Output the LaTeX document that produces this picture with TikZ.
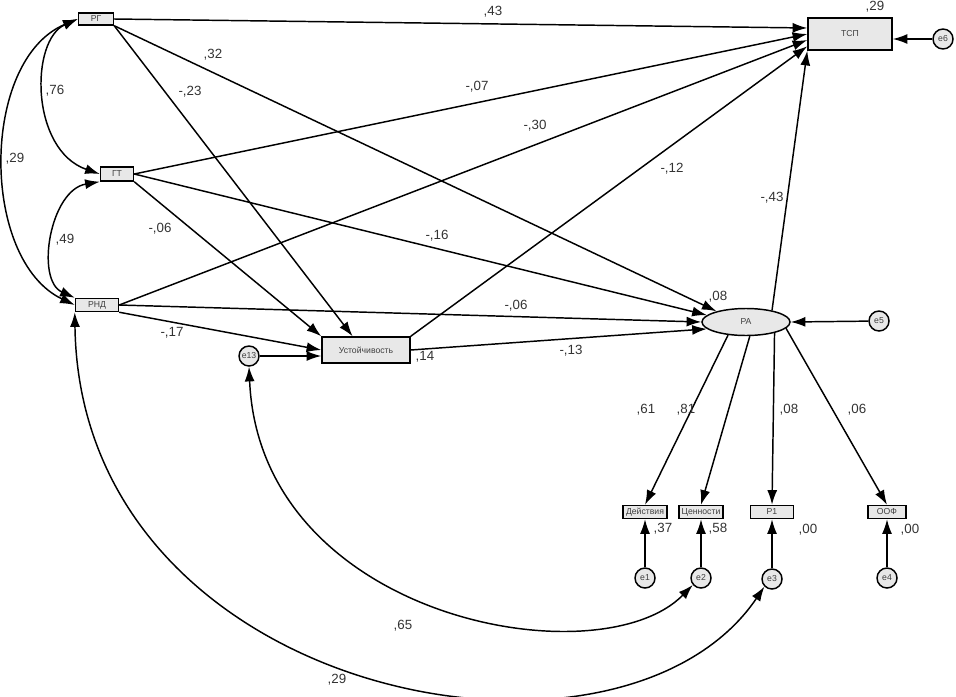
\documentclass[tikz,border=0pt]{standalone}
\usepackage{fontspec}
\setmainfont{Liberation Sans}
\usetikzlibrary{calc, arrows.meta, shapes.geometric}

\begin{document}
\begin{tikzpicture}[x=0.75pt, y=-0.75pt, line width=1.1pt,
  >={Latex[length=11pt,width=7.5pt]},
  obs/.style={draw, line width=1.1pt, fill=gray!18, inner sep=0pt,
    text=black!75, font=\fontsize{6.5}{7}\selectfont},
  lat/.style={obs, ellipse},
  err/.style={obs, circle, minimum size=15pt},
  coef/.style={inner sep=0pt, text=black!80, font=\fontsize{10}{12}\selectfont}]
  \useasboundingbox (0,0) rectangle (956,696);
  % observed variables
  \node[obs, minimum width=26.25pt, minimum height=9pt]    (RG)  at (96,19)   {РГ};
  \node[obs, minimum width=24.75pt, minimum height=10.5pt] (GT)  at (117,174) {ГТ};
  \node[obs, minimum width=32.25pt, minimum height=9.75pt] (RND) at (97,305)  {РНД};
  \node[obs, minimum width=63pt, minimum height=24pt]      (TSP) at (850,34)  {ТСП};
  \node[obs, minimum width=66pt, minimum height=19.5pt]    (UST) at (366,350) {Устойчивость};
  \node[lat, minimum width=66pt, minimum height=20.25pt]   (RA)  at (746,322) {РА};
  \node[obs, minimum width=33pt, minimum height=9.75pt]    (D)   at (645,512) {Действия};
  \node[obs, minimum width=33pt, minimum height=9.75pt]    (C)   at (701,512) {Ценности};
  \node[obs, minimum width=32.25pt, minimum height=9.75pt] (P1)  at (772,512) {Р1};
  \node[obs, minimum width=28.5pt, minimum height=9.75pt]  (OOF) at (887,512) {ООФ};
  % errors
  \node[err] (e6)  at (943,39)  {e6};
  \node[err] (e5)  at (879,321) {e5};
  \node[err] (e13) at (249,356) {e13};
  \node[err] (e1)  at (645,578) {e1};
  \node[err] (e2)  at (701,578) {e2};
  \node[err] (e3)  at (772,579) {e3};
  \node[err] (e4)  at (887,578) {e4};
  % paths to ТСП
  \draw[->] (RG.east) -- (TSP.172);
  \draw[->] (GT.east) -- (TSP.west);
  \draw[->] (RND.east) -- (TSP.188);
  \draw[->] (UST.north east) -- (TSP.196);
  \draw[->] (RA.24) -- (TSP.south west);
  \draw[->] (e6) -- (e6 -| TSP.east);
  % paths to Устойчивость
  \draw[->] (RG.south east) -- ($(UST.north west)!0.35!(UST.north east)$);
  \draw[->] (GT.south east) -- (UST.north west);
  \draw[->] (RND.south east) -- (UST.west);
  \draw[->] (e13) -- (e13 -| UST.west);
  % paths to РА
  \draw[->] (RG.south east) -- (RA.160);
  \draw[->] (GT.east) -- (RA.170);
  \draw[->] (RND.east) -- (RA.180);
  \draw[->] (UST.east) -- (RA.190);
  \draw[->] (e5) -- (RA.east);
  % indicators
  \draw[->] (RA.216) -- (D.north);
  \draw[->] (RA.285) -- (C.north);
  \draw[->] (RA.339) -- (P1.north);
  \draw[->] (RA.351) -- (OOF.north);
  \foreach \e/\v in {e1/D, e2/C, e3/P1, e4/OOF}
    \draw[->] (\e) -- (\v.south);
  % covariances
  \draw[<->] (RG.west) .. controls (30,40) and (30,150) .. (GT.west);
  \draw[<->] (GT.south west) .. controls (50,190) and (35,280) .. (RND.north west);
  \draw[<->] (RG.west) .. controls (-20,60) and (-20,260) .. (RND.west);
  \draw[<->] (e13.south) .. controls (260,620) and (600,680) .. (e2.220);
  \draw[<->] (RND.south west) .. controls (80,700) and (620,800) .. (e3.225);
  % coefficients
  \node[coef] (kTSP) at (875,7)   {,29};
  \node[coef] (k1)   at (493,12)  {,43};
  \node[coef] (k2)   at (213,55)  {,32};
  \node[coef] (k3)   at (190,92)  {-,23};
  \node[coef] (k4)   at (477,87)  {-,07};
  \node[coef] (k5)   at (535,126) {-,30};
  \node[coef] (k6)   at (55,91)   {,76};
  \node[coef] (k7)   at (15,159)  {,29};
  \node[coef] (k8)   at (672,169) {-,12};
  \node[coef] (k9)   at (772,198) {-,43};
  \node[coef] (k10)  at (437,236) {-,16};
  \node[coef] (k11)  at (65,240)  {,49};
  \node[coef] (k12)  at (160,229) {-,06};
  \node[coef] (k13)  at (516,306) {-,06};
  \node[coef] (k14)  at (172,333) {-,17};
  \node[coef] (k15)  at (571,351) {-,13};
  \node[coef] (kRA)  at (718,297) {,08};
  \node[coef] (kUST) at (425,357) {,14};
  \node[coef] (k16)  at (646,410) {,61};
  \node[coef] (k17)  at (686,410) {,81};
  \node[coef] (k18)  at (789,410) {,08};
  \node[coef] (k19)  at (857,410) {,06};
  \node[coef] (kD)   at (663,529) {,37};
  \node[coef] (kC)   at (718,529) {,58};
  \node[coef] (kP1)  at (808,530) {,00};
  \node[coef] (kOOF) at (910,530) {,00};
  \node[coef] (k20)  at (403,626) {,65};
  \node[coef] (k21)  at (337,680) {,29};
\end{tikzpicture}
\end{document}
